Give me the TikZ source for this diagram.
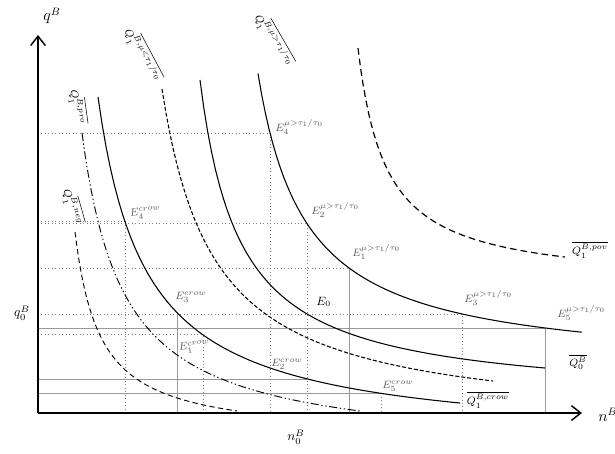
\documentclass[tikz,border=0pt]{standalone}
\usetikzlibrary{arrows.meta}
\begin{document}
\begin{tikzpicture}[x=0.75pt,y=-0.75pt,
  axisline/.style={line width=1.1pt,-{Straight Barb[length=7pt,width=11pt,line width=1.1pt]}},
  curve/.style={line width=0.8pt},
  guidedot/.style={gray,line width=0.6pt,dotted},
  guidesol/.style={gray!80,line width=0.5pt},
  elabel/.style={text=black!65,font=\footnotesize,inner sep=0pt,anchor=base west},
  qlabel/.style={font=\footnotesize,inner sep=0pt}]
\useasboundingbox (0,0) rectangle (615,454);
% curve functions (height above the n-axis, in px)
\tikzset{declare function={
  fA(\x)=42.5+14254/(\x-210);
  fB(\x)=11.6+12857/(\x-160);
  fC(\x)=-13.9+1756.9/((\x-110)/10);
  fD(\x)=-30.6+1663.9/((\x-50)/10);
  fE(\x)=-40+13443/(\x-40);
  fF(\x)=-25.6+5166/(\x-50);
  fG(\x)=127.7+6643/(\x-330);
}}
% coordinates
\coordinate (O) at (38,413);
\coordinate (Ytop) at (38,35);
\coordinate (Xend) at (582,413);
\coordinate (E4m) at (270,{413-fA(270)});
\coordinate (E2m) at (307,{413-fA(307)});
\coordinate (E1m) at (349,{413-fA(349)});
\coordinate (E3m) at (462,{413-fA(462)});
\coordinate (E5m) at (545,{413-fA(545)});
\coordinate (E0) at (307,{413-fB(307)});
\coordinate (E4c) at (125,{413-fD(125)});
\coordinate (E3c) at (177,{413-fD(177)});
\coordinate (E1c) at (203,{413-fD(203)});
\coordinate (Ec0) at (307,{413-fD(307)});
\coordinate (E5c) at (381,{413-fD(381)});
% guide lines
\draw[guidedot] (E4m -| O) -- (E4m) -- (E4m |- O);
\draw[guidedot] (E4c -| O) -- (E4c) -- (E4c |- O);
\draw[guidedot] (E2m -| O) -- (E2m) -- (E2m |- O);
\draw[guidedot] (E1m -| O) -- (E1m);
\draw[guidesol] (E1m) -- (E1m |- O);
\draw[guidedot] (E3m -| O) -- (E3m) -- (E3m |- O);
\draw[guidesol] (E5m -| O) -- (E5m) -- (E5m |- O);
\draw[guidesol] (E3c) -- (E3c |- O);
\draw[guidedot] (E1c -| O) -- (E1c) -- (E1c |- O);
\draw[guidesol] (Ec0 -| O) -- (Ec0);
\draw[guidesol] (E5c -| O) -- (E5c);
\draw[guidedot] (E5c) -- (E5c |- O);
% curves
\draw[curve] plot[domain=258:582,samples=90] (\x,{413-fA(\x)});
\draw[curve] plot[domain=200:545,samples=90] (\x,{413-fB(\x)});
\draw[curve,dash pattern=on 3pt off 1.5pt] plot[domain=162:493,samples=90] (\x,{413-fC(\x)});
\draw[curve] plot[domain=98:460,samples=90] (\x,{413-fD(\x)});
\draw[curve,line width=0.7pt,dash pattern=on 6pt off 2pt on 1pt off 2pt on 1pt off 2pt] plot[domain=82:360,samples=90] (\x,{413-fE(\x)});
\draw[curve,line width=0.7pt,dash pattern=on 4pt off 2.5pt] plot[domain=75:237,samples=70] (\x,{413-fF(\x)});
\draw[curve,line width=0.9pt,dash pattern=on 5pt off 3pt] plot[domain=358:565,samples=80] (\x,{413-fG(\x)});
% axes
\draw[axisline] (O) -- (Ytop);
\draw[axisline] (O) -- (Xend);
\node[font=\large] (qB) at (52,16) {$q^B$};
\node[font=\large,anchor=west,inner sep=0pt] (nB) at (598,415) {$n^B$};
\node (q0) at (22,313) {$q_0^B$};
\node (n0) at (296,437) {$n_0^B$};
% curve labels
\node[qlabel,rotate=-60] (Lmu) at (274,40) {$Q_1^{\overline{B,\mu>\tau_1/\tau_0}}$};
\node[qlabel,rotate=-62] (Lml) at (143,55) {$Q_1^{\overline{B,\mu<\tau_1/\tau_0}}$};
\node[qlabel,rotate=-82] (Lpro) at (78,107) {$Q_1^{\overline{B,pro}}$};
\node[qlabel,rotate=-74] (Lneg) at (73,207) {$Q_1^{\overline{B,neg}}$};
\node[qlabel] (Lpov) at (590,250) {$\overline{Q_1^{B,pov}}$};
\node[qlabel] (LQ0) at (578,362) {$\overline{Q_0^{B}}$};
\node[qlabel] (Lcrow) at (488,400) {$\overline{Q_1^{B,crow}}$};
% point labels
\node[elabel] (tE4m) at (275,131) {$E_4^{\mu>\tau_1/\tau_0}$};
\node[elabel] (tE2m) at (311,214) {$E_2^{\mu>\tau_1/\tau_0}$};
\node[elabel] (tE1m) at (352,256) {$E_1^{\mu>\tau_1/\tau_0}$};
\node[elabel] (tE3m) at (464,302) {$E_3^{\mu>\tau_1/\tau_0}$};
\node[elabel] (tE5m) at (557,317) {$E_5^{\mu>\tau_1/\tau_0}$};
\node[elabel,text=black,font=\small] (tE0) at (316,305) {$E_0$};
\node[elabel,rotate=8] (tE4c) at (130,217) {$E_4^{crow}$};
\node[elabel] (tE3c) at (175,299) {$E_3^{crow}$};
\node[elabel,rotate=8] (tE1c) at (179,351) {$E_1^{crow}$};
\node[elabel] (tE2c) at (271,366) {$E_2^{crow}$};
\node[elabel] (tE5c) at (382,388) {$E_5^{crow}$};
\end{tikzpicture}
\end{document}
